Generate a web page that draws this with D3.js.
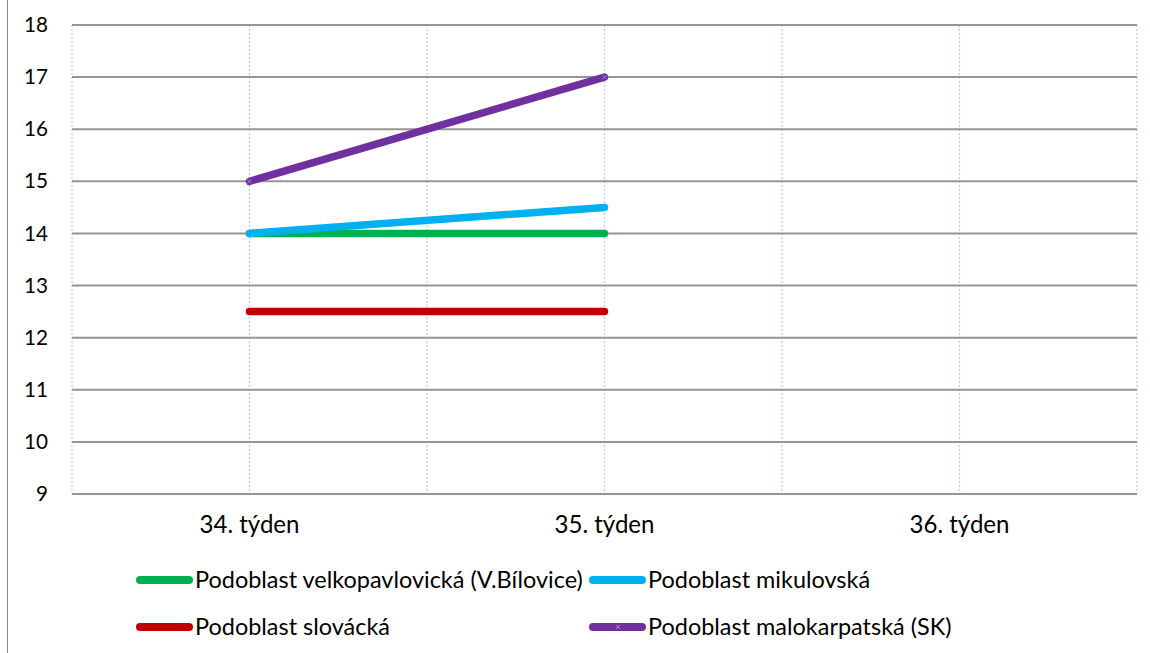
<!DOCTYPE html>
<html><head><meta charset="utf-8">
<script src="https://cdn.jsdelivr.net/npm/d3@7"></script>
<style>body{margin:0;background:#fff}svg{display:block}text{font-family:Lato,"Open Sans",sans-serif;fill:#000}</style>
</head><body><svg id="c" width="1150" height="653"></svg>
<script>
const categories = ["34. týden","35. týden","36. týden"];
const yTicks = [9,10,11,12,13,14,15,16,17,18];
const seriesNames = ["Podoblast velkopavlovická (V.Bílovice)","Podoblast mikulovská","Podoblast slovácká","Podoblast malokarpatská (SK)"];
const seriesColors = ["#00b050","#00b0f0","#c00000","#7030a0"];
const velkopavlovicka = [14, 14];
const mikulovska = [14, 14.5];
const slovacka = [12.5, 12.5];
const malokarpatska = [15, 17];
const seriesValues = [velkopavlovicka, mikulovska, slovacka, malokarpatska];

const svg = d3.select("#c");
const L = 72, R = 1137, T = 25, B = 494;
const x = d3.scaleBand().domain(categories).range([L, R]);
const y = d3.scaleLinear().domain([9, 18]).range([B, T]);

function fitWidth(sel, target) {
  sel.each(function() {
    const w = this.getComputedTextLength();
    const fs = parseFloat(this.style.fontSize);
    if (w > 0) this.style.fontSize = (fs * target / w).toFixed(2) + "px";
  });
}

svg.append("line").attr("x1",7.5).attr("x2",7.5).attr("y1",0).attr("y2",653).attr("stroke","#888").attr("stroke-width",1);

const vx = [];
categories.forEach(c => { vx.push(x(c)); vx.push(x(c) + x.bandwidth()/2); });
vx.push(R);
svg.append("g").selectAll("line").data(vx).join("line")
  .attr("x1", d => d).attr("x2", d => d).attr("y1", T).attr("y2", B)
  .attr("stroke", "#b8c8e8").attr("stroke-width", 1.2).attr("stroke-dasharray", "2,2");

svg.append("g").selectAll("line").data(yTicks).join("line")
  .attr("x1", L).attr("x2", R).attr("y1", d => y(d)).attr("y2", d => y(d))
  .attr("stroke", "#959595").attr("stroke-width", 2);

const yAxis = d3.axisLeft(y).tickValues(yTicks).tickSize(0).tickPadding(24);
const gy = svg.append("g").attr("transform", `translate(${L},0)`).call(yAxis);
gy.select(".domain").remove();
gy.selectAll("text").style("font-size","22px").style("font-family","Lato").attr("fill","#000");
fitWidth(gy.selectAll(".tick").filter(d => d === 18).select("text"), 24);
const yfs = gy.selectAll(".tick").filter(d => d === 18).select("text").style("font-size");
gy.selectAll("text").style("font-size", yfs);

const xAxis = d3.axisBottom(x).tickSize(0).tickPadding(22);
const gx = svg.append("g").attr("transform", `translate(0,${B})`).call(xAxis);
gx.select(".domain").remove();
gx.selectAll("text").style("font-size","22px").style("font-family","Lato").attr("fill","#000");
fitWidth(gx.selectAll("text").filter((d,i) => i === 0), 100);
const xfs = gx.select("text").style("font-size");
gx.selectAll("text").style("font-size", xfs);

const line = d3.line().x((d,i) => x(categories[i]) + x.bandwidth()/2).y(d => y(d));
seriesValues.forEach((vals, k) => {
  svg.append("path").datum(vals).attr("d", line).attr("fill","none")
    .attr("stroke", seriesColors[k]).attr("stroke-width", 7.5).attr("stroke-linecap","round");
});
svg.append("g").selectAll("path").data(malokarpatska).join("path")
  .attr("transform", (d,i) => `translate(${x(categories[i]) + x.bandwidth()/2},${y(d)})`)
  .attr("d", "M-2,-2L2,2M-2,2L2,-2").attr("stroke","#a080c0").attr("stroke-width",1);

const legPos = [[137,580],[590,580],[137,627],[590,627]];
const legTexts = [];
seriesNames.forEach((n, k) => {
  const [lx, ly] = legPos[k];
  const g = svg.append("g").attr("transform", `translate(${lx},${ly})`);
  g.append("line").attr("x1",3).attr("x2",52).attr("y1",0).attr("y2",0)
    .attr("stroke", seriesColors[k]).attr("stroke-width",8).attr("stroke-linecap","round");
  if (k === 3) g.append("path").attr("d","M26,-2L30,2M26,2L30,-2").attr("stroke","#a080c0").attr("stroke-width",1);
  legTexts.push(g.append("text").attr("x",58).attr("y",0).attr("dy","0.36em").style("font-size","22px").text(n).node());
});
fitWidth(d3.select(legTexts[0]), 388);
const lfs = legTexts[0].style.fontSize;
legTexts.forEach(t => t.style.fontSize = lfs);
</script></body></html>
